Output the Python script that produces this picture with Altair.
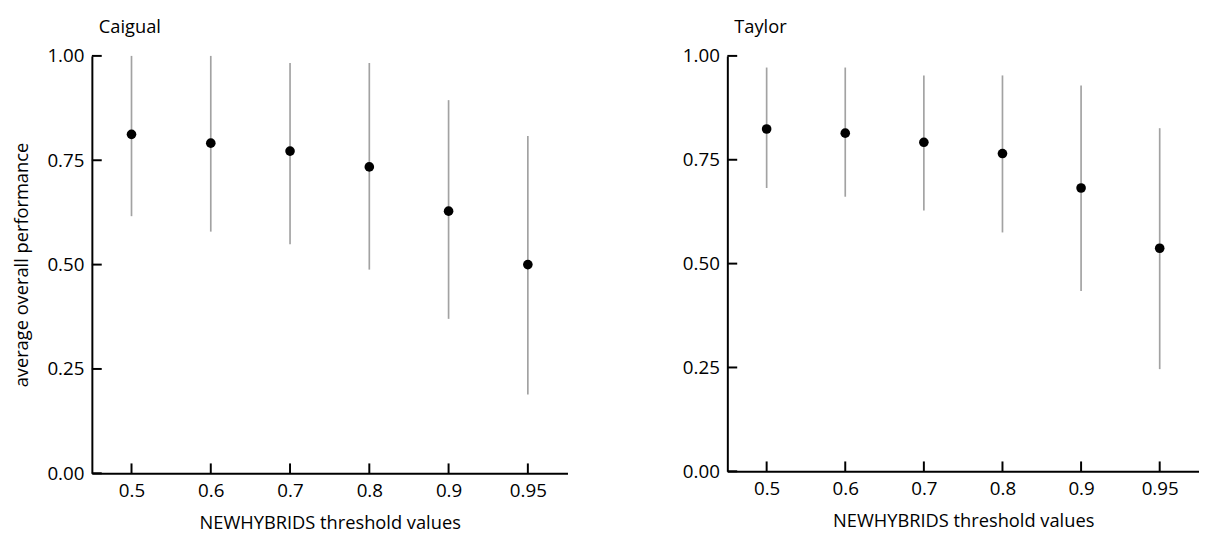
import altair as alt
import pandas as pd

thresholds = ["0.5", "0.6", "0.7", "0.8", "0.9", "0.95"]

caigual_mean = [0.812, 0.791, 0.772, 0.734, 0.628, 0.500]
caigual_lo = [0.616, 0.579, 0.549, 0.488, 0.370, 0.189]
caigual_hi = [1.000, 1.000, 0.983, 0.983, 0.894, 0.808]

taylor_mean = [0.824, 0.814, 0.792, 0.765, 0.682, 0.537]
taylor_lo = [0.682, 0.661, 0.628, 0.575, 0.434, 0.246]
taylor_hi = [0.972, 0.972, 0.953, 0.953, 0.929, 0.826]

y_ticks = [0.0, 0.25, 0.5, 0.75, 1.0]

FONT = "Open Sans"
X_TITLE = "NEWHYBRIDS threshold values"
Y_TITLE = "average overall performance"


def panel(name, mean, lo, hi, width, height, y_title):
    df = pd.DataFrame({"threshold": thresholds, "mean": mean, "lo": lo, "hi": hi})
    x_axis = alt.Axis(title=X_TITLE, labelAngle=0, titlePadding=13, labelPadding=9)
    y_axis = alt.Axis(title=y_title, values=y_ticks, format=".2f", titlePadding=16)
    x_scale = alt.Scale(type="point", padding=0.5)
    y_scale = alt.Scale(domain=[0, 1], nice=False, zero=True)

    def X():
        return alt.X("threshold:O", sort=thresholds, scale=x_scale, axis=x_axis)

    base = alt.Chart(df)
    bars = base.mark_rule(color="#a2a2a2", strokeWidth=1.7).encode(
        x=X(),
        y=alt.Y("lo:Q", scale=y_scale, axis=y_axis),
        y2="hi:Q",
    )
    pts = base.mark_circle(size=95, color="black", opacity=1).encode(
        x=X(),
        y=alt.Y("mean:Q", scale=y_scale, axis=y_axis),
    )
    xt = base.mark_rule(color="black", strokeWidth=2).encode(
        x=X(),
        y=alt.value(height),
        y2=alt.value(height - 10),
    )
    yt = alt.Chart(pd.DataFrame({"tick": y_ticks})).mark_rule(
        color="black", strokeWidth=2
    ).encode(
        y=alt.Y("tick:Q", scale=y_scale, axis=y_axis),
        x=alt.value(0),
        x2=alt.value(10),
    )
    return alt.layer(bars, xt, yt, pts).properties(
        width=width,
        height=height,
        title=alt.TitleParams(
            name, anchor="start", frame="group", dx=7, offset=11,
            font=FONT, fontSize=18.5, fontWeight="normal", color="black",
        ),
    )


left = panel("Caigual", caigual_mean, caigual_lo, caigual_hi, 482, 423, Y_TITLE)
right = panel("Taylor", taylor_mean, taylor_lo, taylor_hi, 478, 421, None)

chart = alt.hconcat(left, right, spacing=116).properties(
    padding={"left": 4, "top": 6, "right": 0, "bottom": 0}
).configure_axis(
    domainColor="black",
    domainWidth=2,
    ticks=False,
    tickSize=0,
    grid=False,
    labelFont=FONT,
    labelFontSize=19,
    labelColor="black",
    labelPadding=8,
    titleFont=FONT,
    titleFontSize=18.5,
    titleFontWeight="normal",
    titleColor="black",
).configure_view(stroke=None)

chart.save("out.html", embed_options={"renderer": "svg", "actions": False})
